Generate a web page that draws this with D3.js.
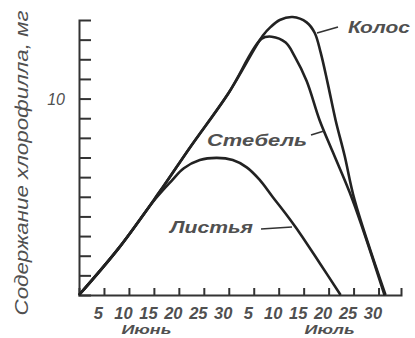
<!DOCTYPE html>
<html><head><meta charset="utf-8">
<script src="https://cdn.jsdelivr.net/npm/d3@7"></script>
<style>body{margin:0;background:#fff}svg{display:block}</style>
</head><body>
<svg id="c" width="415" height="338"></svg>
<script>
// day index: 0 = 31 May (June 5 = 5, July 5 = 35)
const xTickDays = [5,10,15,20,25,30,35,40,45,50,55,60];
const xTickLabels = ["5","10","15","20","25","30","5","10","15","20","25","30"];
const months = [{name:"Июнь", day:13.5},{name:"Июль", day:50.2}];
const yTicks = [1,2,3,4,5,6,7,8,9,10,11,12,13];
const yLabelled = [10];
const yTitle = "Содержание хлорофилла, мг";

const listyaDay = [0, 8, 15, 18.5, 21, 24.2, 27.6, 30.8, 33.6, 36.2, 38.8, 41.6, 44.2, 48.2, 52.4];
const listyaVal = [0, 2.4, 4.8, 5.8, 6.45, 6.87, 6.98, 6.87, 6.5, 5.86, 4.99, 4.07, 3.16, 1.63, 0];

const stebelDay = [0, 8, 16, 22.2, 30, 36.6, 38.6, 41.4, 43.2, 45.6, 48.2, 50.8, 54.8, 61.2];
const stebelVal = [0, 2.4, 5.2, 7.5, 10.3, 13.05, 13.15, 12.85, 12.15, 10.9, 8.9, 7.3, 4.84, 0];

const kolosDay = [0, 8, 16, 22.2, 30, 36.8, 38.4, 40.2, 42.8, 45.6, 47.2, 48.4, 49.8, 51.4, 53.2, 55.2, 61.4];
const kolosVal = [0, 2.4, 5.2, 7.5, 10.3, 13.2, 13.65, 14.0, 14.15, 13.88, 13.35, 12.35, 10.8, 8.9, 7.1, 4.84, 0];

const seriesLabels = [
  {text:"Колос", x:348, y:33, w:62, lead:[[317,33],[338,27]]},
  {text:"Стебель", x:207, y:146, w:100, lead:[[311,135],[324,131]]},
  {text:"Листья", x:170, y:233, w:83, lead:[[261,229],[292,227]]}
];

const svg = d3.select("#c");
const x = d3.scaleLinear().domain([0,64.5]).range([79,401]);
const y = d3.scaleLinear().domain([0,14]).range([295,20]);
const FONT = "'Liberation Sans', Arial, sans-serif";
const TXT = "#505050";

// axes
const yAxis = d3.axisLeft(y).tickValues(yTicks)
  .tickSizeInner(-12).tickSizeOuter(-12).tickPadding(14)
  .tickFormat(d => yLabelled.includes(d) ? String(d) : "");
const gy = svg.append("g").attr("transform","translate(79,0)").call(yAxis);
const xAxis = d3.axisBottom(x).tickValues(xTickDays)
  .tickSizeInner(-7).tickSizeOuter(-7).tickPadding(12)
  .tickFormat((d,i) => xTickLabels[i]);
const gx = svg.append("g").attr("transform","translate(0,295)").call(xAxis);
[gx, gy].forEach(g => {
  g.selectAll("path,line").attr("stroke","#333").attr("stroke-width",2);
  g.selectAll("text").attr("font-family",FONT).attr("font-style","italic")
    .attr("fill",TXT).attr("font-weight","bold");
});
gx.selectAll("text").attr("font-size",16.5).attr("dx",-6);
gy.selectAll("text").attr("font-size",16).attr("font-weight","normal").attr("dy","0.36em");

// month labels
svg.selectAll("text.month").data(months).join("text").attr("class","month")
  .attr("x", d => x(d.day)).attr("y", 334).attr("text-anchor","middle")
  .attr("font-family",FONT).attr("font-style","italic").attr("font-weight","bold")
  .attr("font-size",13.5).attr("fill",TXT)
  .attr("textLength",50).attr("lengthAdjust","spacingAndGlyphs").text(d => d.name);

// y title
svg.append("text").attr("transform","translate(28,163) rotate(-90)")
  .attr("text-anchor","middle").attr("font-family",FONT).attr("font-style","italic")
  .attr("font-size",19).attr("fill",TXT)
  .attr("textLength",305).attr("lengthAdjust","spacingAndGlyphs").text(yTitle);

// curves
const line = d3.line().x(d => x(d[0])).y(d => y(d[1])).curve(d3.curveCatmullRom.alpha(0.5));
const series = [
  d3.zip(kolosDay, kolosVal),
  d3.zip(stebelDay, stebelVal),
  d3.zip(listyaDay, listyaVal)
];
svg.selectAll("path.s").data(series).join("path").attr("class","s")
  .attr("d", line).attr("fill","none").attr("stroke","#222")
  .attr("stroke-width",2.6).attr("stroke-linejoin","round");

// series labels with leaders
seriesLabels.forEach(l => {
  svg.append("text").attr("x",l.x).attr("y",l.y).attr("font-family",FONT)
    .attr("font-style","italic").attr("font-weight","bold").attr("font-size",17)
    .attr("fill",TXT).attr("textLength",l.w).attr("lengthAdjust","spacingAndGlyphs").text(l.text);
  svg.append("path").attr("d", d3.line()(l.lead)).attr("stroke","#333").attr("stroke-width",1.6);
});
</script>
</body></html>
